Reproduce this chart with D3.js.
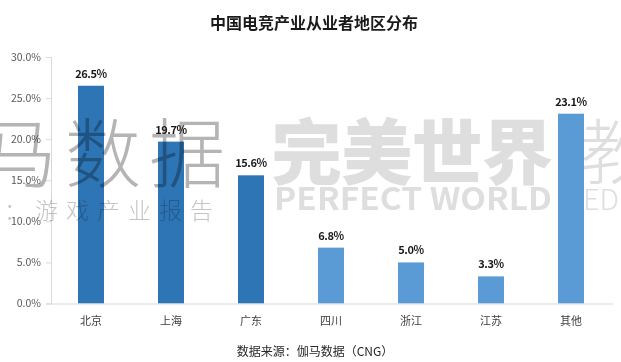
<!DOCTYPE html>
<html><head><meta charset="utf-8">
<script src="https://cdn.jsdelivr.net/npm/d3@7/dist/d3.min.js"></script>
<style>
html,body{margin:0;padding:0;background:#fff;}
svg{display:block;}
text{font-family:"Noto Sans CJK SC","Noto Sans",sans-serif;}
</style></head>
<body><svg id="chart" width="621" height="362"></svg>
<script>
const categories = ["北京","上海","广东","四川","浙江","江苏","其他"];
const values = [26.5, 19.7, 15.6, 6.8, 5.0, 3.3, 23.1];
const groups = ["dark","dark","dark","light","light","light","light"];
const yTicks = [0, 5, 10, 15, 20, 25, 30];
const title = "中国电竞产业从业者地区分布";
const source = "数据来源：伽马数据（CNG）";

const W = 621, H = 362;
const svg = d3.select("#chart");
const colors = {dark:"#2E75B6", light:"#5B9BD5"};

const x = d3.scaleBand().domain(categories).range([51, 611]).paddingInner(0.675).paddingOuter(0.3375);
const y = d3.scaleLinear().domain([0, 30]).range([303.5, 57]);

// background watermark (behind bars)
const wmBack = svg.append("g").attr("fill", "#dedede");
wmBack.append("text").attr("x", 271).attr("y", 178).attr("font-size", 71).attr("font-weight", 900)
  .attr("textLength", 282).attr("lengthAdjust", "spacing").text("完美世界");
wmBack.append("text").attr("x", 274).attr("y", 210).attr("font-size", 31).attr("font-weight", 700)
  .attr("font-family", "DejaVu Sans").attr("textLength", 278).attr("lengthAdjust", "spacingAndGlyphs").text("PERFECT WORLD");
wmBack.append("text").attr("x", 580).attr("y", 178).attr("font-size", 71).attr("font-weight", 300).text("教育");
wmBack.append("text").attr("x", 583).attr("y", 210).attr("font-size", 29).attr("font-weight", 300)
  .attr("font-family", "DejaVu Sans").text("EDU");

// axes
const yAxis = d3.axisLeft(y).tickValues(yTicks).tickFormat(d => d.toFixed(1) + "%").tickSize(5).tickPadding(5);
const gy = svg.append("g").attr("transform", "translate(51,0)").call(yAxis);
gy.select(".domain").attr("stroke", "#d9d9d9");
gy.selectAll(".tick line").attr("stroke", "#d9d9d9");
gy.selectAll(".tick text").attr("fill", "#595959").attr("font-size", 10.5)
  .attr("font-family", "Liberation Sans, Arial, sans-serif");

// bars
svg.append("g").selectAll("rect").data(categories).join("rect")
  .attr("x", d => x(d)).attr("width", x.bandwidth())
  .attr("y", (d, i) => y(values[i])).attr("height", (d, i) => y(0) - y(values[i]))
  .attr("fill", (d, i) => colors[groups[i]]);

// baseline
const xAxis = d3.axisBottom(x).tickSize(0).tickPadding(14);
const gx = svg.append("g").attr("transform", `translate(0,${y(0)})`).call(xAxis);
gx.select(".domain").attr("stroke", "#d9d9d9").attr("d", "M51,0.5H613");
gx.selectAll(".tick text").attr("fill", "#404040").attr("font-size", 11);

// value labels
svg.append("g").selectAll("text").data(categories).join("text")
  .attr("x", d => x(d) + x.bandwidth() / 2).attr("y", (d, i) => y(values[i]) - 8)
  .attr("text-anchor", "middle").attr("font-size", 11).attr("font-weight", "bold").attr("fill", "#1a1a1a")
  .attr("font-family", "DejaVu Sans, sans-serif").attr("letter-spacing", -0.4)
  .text((d, i) => values[i].toFixed(1) + "%");

// front watermark (over bars)
const wmFront = svg.append("g").style("mix-blend-mode", "multiply").attr("fill", "#b4b4b4");
wmFront.append("text").attr("x", -103).attr("y", 182).attr("font-size", 76).attr("font-weight", 300)
  .attr("letter-spacing", 8).text("伽马数据");
wmFront.append("text").attr("x", 4).attr("y", 219).attr("font-size", 23).attr("font-weight", 300)
  .attr("fill", "#c4c4c4").attr("letter-spacing", 8).text("：游戏产业报告");

// title
svg.append("text").attr("x", 314).attr("y", 29).attr("text-anchor", "middle")
  .attr("font-size", 16).attr("font-weight", "bold").attr("fill", "#1a1a1a").text(title);

// source
svg.append("text").attr("x", 315).attr("y", 356).attr("text-anchor", "middle")
  .attr("font-size", 12).attr("fill", "#262626").text(source);
</script></body></html>
